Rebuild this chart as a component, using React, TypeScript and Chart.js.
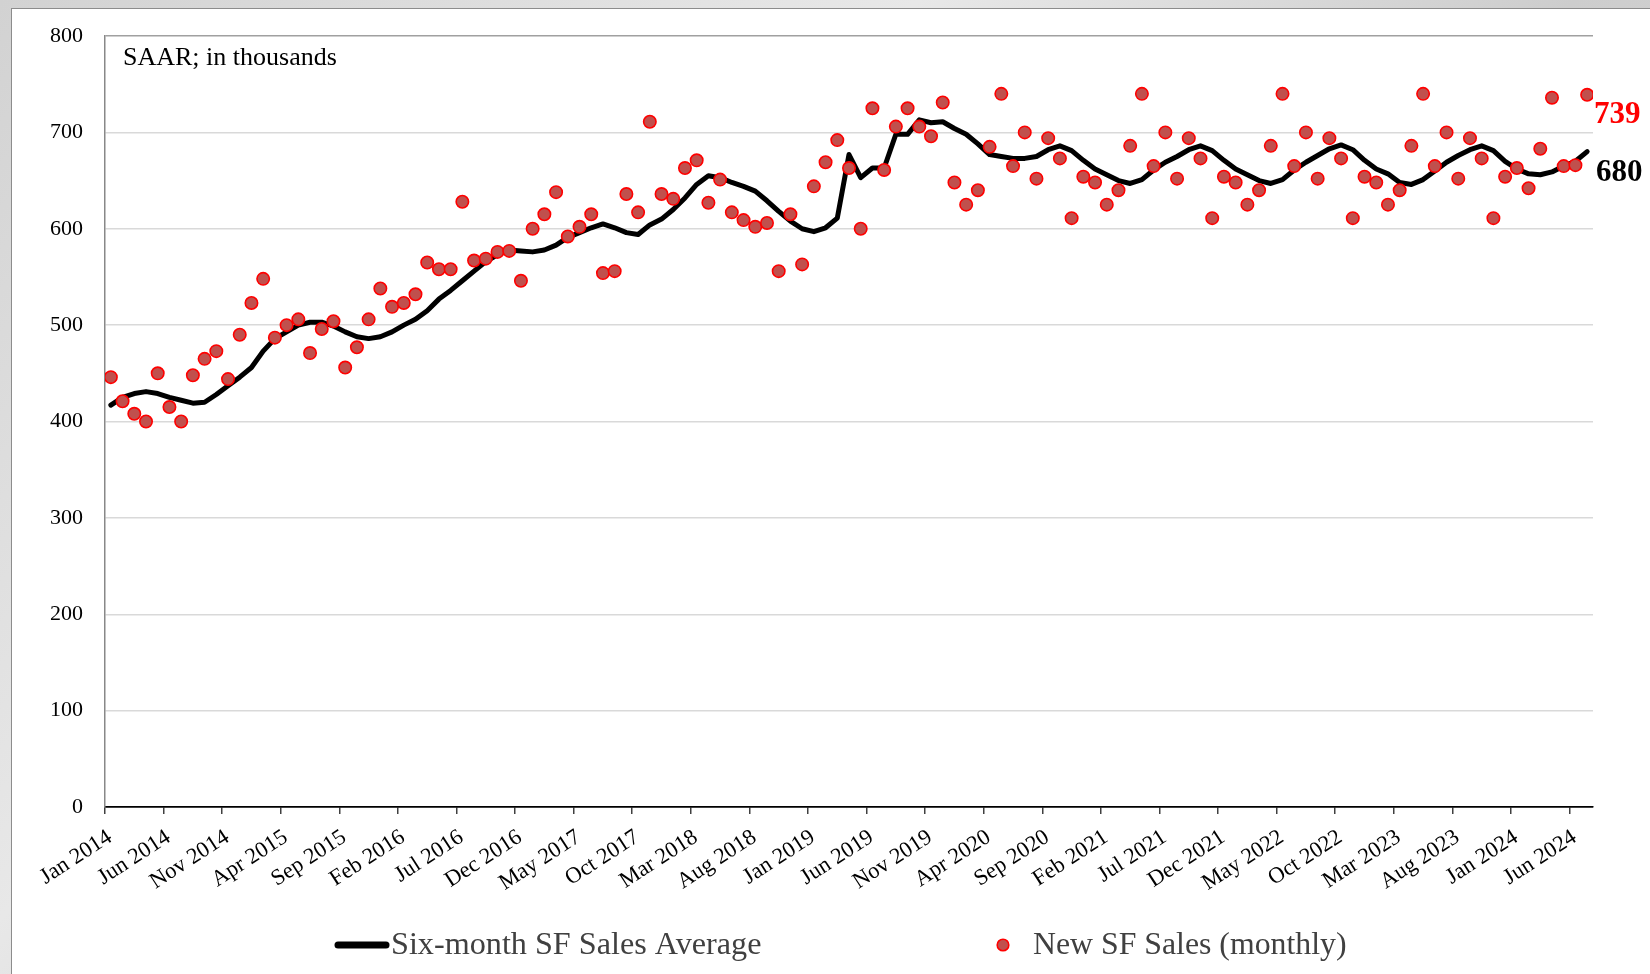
import React, { useEffect, useRef } from "react";
import { Chart, registerables } from "chart.js";

Chart.register(...registerables);

// Tick labels shown every five months (Jan 2014 … Jun 2024)
const tickLabels = [
  "Jan 2014", "Jun 2014", "Nov 2014", "Apr 2015", "Sep 2015", "Feb 2016",
  "Jul 2016", "Dec 2016", "May 2017", "Oct 2017", "Mar 2018", "Aug 2018",
  "Jan 2019", "Jun 2019", "Nov 2019", "Apr 2020", "Sep 2020", "Feb 2021",
  "Jul 2021", "Dec 2021", "May 2022", "Oct 2022", "Mar 2023", "Aug 2023",
  "Jan 2024", "Jun 2024",
];

// New SF Sales (monthly), SAAR thousands, Jan 2014 – Jul 2024
const monthlySales = [
  446, 421, 408, 400, 450, 415, 400, 448, 465, 473, 444, 490,
  523, 548, 487, 500, 506, 471, 496, 504, 456, 477, 506, 538,
  519, 523, 532, 565, 558, 558, 628, 567, 569, 576, 577, 546,
  600, 615, 638, 592, 602, 615, 554, 556, 636, 617, 711, 636,
  631, 663, 671, 627, 651, 617, 609, 602, 606, 556, 615, 563,
  644, 669, 692, 663, 600, 725, 661, 706, 725, 706, 696, 731,
  648, 625, 640, 685, 740, 665, 700, 652, 694, 673, 611, 654,
  648, 625, 640, 686, 740, 665, 700, 652, 694, 673, 611, 654,
  648, 625, 640, 686, 740, 665, 700, 652, 694, 673, 611, 654,
  648, 625, 640, 686, 740, 665, 700, 652, 694, 673, 611, 654,
  663, 642, 683, 736, 665, 666, 739,
];

// Six-month SF Sales Average
const sixMonthAvg = [
  417, 425, 429, 431, 429, 425, 422, 419, 420, 428, 437, 446,
  456, 473, 486, 493, 500, 503, 503, 499, 493, 488, 486, 488,
  493, 500, 506, 515, 527, 536, 546, 556, 566, 573, 578, 577,
  576, 578, 583, 591, 596, 601, 605, 601, 596, 594, 604, 610,
  620, 632, 646, 655, 653, 648, 644, 639, 629, 618, 608, 600,
  597, 601, 611, 677, 653, 663, 663, 698, 698, 713, 710, 711,
  704, 698, 688, 677, 675, 673, 673, 675, 682, 686, 681, 671,
  662, 656, 650, 647, 651, 661, 669, 675, 682, 686, 681, 671,
  662, 656, 650, 647, 651, 661, 669, 676, 683, 687, 682, 671,
  662, 657, 648, 646, 651, 660, 669, 676, 682, 686, 681, 670,
  662, 657, 656, 659, 665, 670, 680,
];

const seriesNames = ["Six-month SF Sales Average", "New SF Sales (monthly)"];
const unitNote = "SAAR; in thousands";

const SERIF = "'Liberation Serif', 'Times New Roman', serif";

const overlayPlugin = {
  id: "overlay",
  afterDraw(chart: any) {
    const { ctx, chartArea, scales } = chart;
    const y = scales.y;
    const lastSales = monthlySales[monthlySales.length - 1];
    const lastAvg = sixMonthAvg[sixMonthAvg.length - 1];
    ctx.save();
    // unit note
    ctx.font = `26px ${SERIF}`;
    ctx.fillStyle = "#000";
    ctx.textAlign = "left";
    ctx.textBaseline = "middle";
    ctx.fillText(unitNote, chartArea.left + 18, chartArea.top + 22);
    // end labels
    ctx.font = `bold 31px ${SERIF}`;
    ctx.fillStyle = "#ff0000";
    ctx.fillText(String(lastSales), chartArea.right + 1, y.getPixelForValue(lastSales) + 20);
    ctx.fillStyle = "#000";
    ctx.fillText(String(lastAvg), chartArea.right + 3, y.getPixelForValue(lastAvg) + 21);
    // legend
    const ly = 946;
    ctx.strokeStyle = "#000";
    ctx.lineWidth = 7;
    ctx.lineCap = "round";
    ctx.beginPath();
    ctx.moveTo(338, ly - 1);
    ctx.lineTo(386, ly - 1);
    ctx.stroke();
    ctx.font = `32.2px ${SERIF}`;
    ctx.fillStyle = "#404040";
    ctx.fillText(seriesNames[0], 391, ly);
    ctx.beginPath();
    ctx.arc(1003, ly - 1, 5.8, 0, Math.PI * 2);
    ctx.fillStyle = "#C0504D";
    ctx.fill();
    ctx.lineWidth = 1.6;
    ctx.strokeStyle = "#ff0000";
    ctx.stroke();
    ctx.font = `31.8px ${SERIF}`;
    ctx.fillStyle = "#404040";
    ctx.fillText(seriesNames[1], 1033, ly);
    ctx.restore();
  },
};

export default function App() {
  const ref = useRef<HTMLCanvasElement>(null);

  useEffect(() => {
    const avgData = sixMonthAvg.map((v, i) => ({ x: i, y: v }));
    const salesData = monthlySales.map((v, i) => ({ x: i, y: v }));
    const chart = new Chart(ref.current as HTMLCanvasElement, {
      type: "line",
      data: {
        datasets: [
          {
            label: seriesNames[0],
            data: avgData,
            borderColor: "#000",
            backgroundColor: "#000",
            borderWidth: 5,
            pointRadius: 0,
            borderJoinStyle: "round",
            borderCapStyle: "round",
            tension: 0,
            order: 1,
          },
          {
            label: seriesNames[1],
            data: salesData,
            showLine: false,
            pointRadius: 6.2,
            pointBackgroundColor: "#C0504D",
            pointBorderColor: "#FF0000",
            pointBorderWidth: 1.6,
            order: 0,
          },
        ],
      },
      options: {
        responsive: false,
        animation: false,
        layout: { padding: { left: 0, top: 36, right: 57, bottom: 0 } },
        plugins: { legend: { display: false }, tooltip: { enabled: false } },
        scales: {
          x: {
            type: "linear",
            min: -0.5,
            max: monthlySales.length - 0.5,
            afterBuildTicks: (axis: any) => {
              axis.ticks = tickLabels.map((_, k) => ({ value: k * 5 - 0.5 }));
            },
            afterFit: (s: any) => {
              s.height = 167;
            },
            grid: {
              drawOnChartArea: false,
              drawTicks: true,
              tickLength: 7,
              color: "#404040",
              lineWidth: 1.5,
            },
            border: { display: true, color: "#000", width: 1.5 },
            ticks: {
              autoSkip: false,
              minRotation: 33,
              maxRotation: 33,
              padding: 10,
              labelOffset: 5,
              color: "#000",
              font: { family: SERIF, size: 22.5 },
              callback: (_v: any, i: number) => tickLabels[i],
            },
          },
          y: {
            min: 0,
            max: 800,
            afterFit: (s: any) => {
              s.width = 105;
            },
            ticks: {
              stepSize: 100,
              padding: 22,
              color: "#000",
              font: { family: SERIF, size: 22 },
            },
            grid: {
              drawTicks: false,
              lineWidth: 1.5,
              color: (c: any) =>
                c.tick && c.tick.value === 0 ? "#000" : c.tick && c.tick.value === 800 ? "#a0a0a0" : "#d9d9d9",
            },
            border: { display: true, color: "#888", width: 1.5 },
          },
        },
      },
      plugins: [overlayPlugin],
    } as any);
    return () => chart.destroy();
  }, []);

  return (
    <div
      style={{
        position: "absolute",
        left: 0,
        top: 0,
        width: 1650,
        height: 974,
        overflow: "hidden",
        background: "linear-gradient(135deg, #d2d2d2 0%, #e8e8e8 35%, #cdcdcd 60%, #e2e2e2 100%)",
      }}
    >
      <div
        style={{
          position: "absolute",
          left: 11,
          top: 8,
          width: 1700,
          height: 1000,
          background: "#fff",
          border: "1px solid #8c8c8c",
          boxSizing: "border-box",
        }}
      />
      <canvas
        ref={ref}
        width={1650}
        height={974}
        style={{ position: "absolute", left: 0, top: 0, width: 1650, height: 974 }}
      />
    </div>
  );
}
